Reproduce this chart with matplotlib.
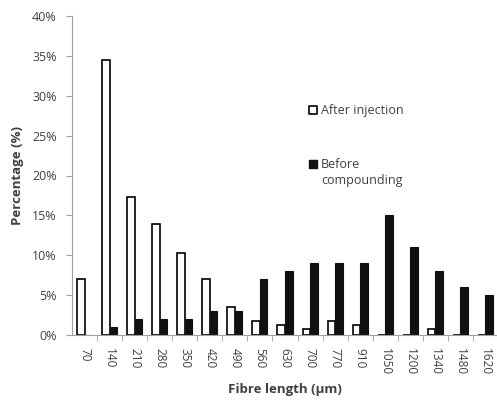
import matplotlib
matplotlib.use("Agg")
import matplotlib.pyplot as plt
import numpy as np
from matplotlib.ticker import PercentFormatter, FixedLocator

lengths = ["70", "140", "210", "280", "350", "420", "490", "560", "630",
           "700", "770", "910", "1050", "1200", "1340", "1480", "1620"]
after_injection = [7.0, 34.5, 17.3, 13.9, 10.3, 7.0, 3.5, 1.8, 1.2,
                   0.7, 1.8, 1.2, 0.0, 0.0, 0.8, 0.0, 0.0]
before_compounding = [0.0, 1.0, 2.0, 2.0, 2.0, 3.0, 3.0, 7.0, 8.0,
                      9.0, 9.0, 9.0, 15.0, 11.0, 8.0, 6.0, 5.0]

TEXT = "#404040"
AXIS = "#a0a0a0"

plt.rcParams["font.family"] = ["Open Sans", "DejaVu Sans"]

fig = plt.figure(figsize=(4.97, 4.01), dpi=100)
ax = fig.add_axes([72 / 497, 1 - 335 / 401, 426 / 497, 319 / 401])

x = np.arange(len(lengths))
w = 0.3
ax.bar(x - w / 2, after_injection, w, color="white", edgecolor="black", linewidth=1.2)
ax.bar(x + w / 2, before_compounding, w, color="#111111", edgecolor="#111111", linewidth=0.8)

ax.set_xlim(-0.5, len(lengths) - 0.5)
ax.set_ylim(0, 40)
ax.set_yticks(np.arange(0, 41, 5))
ax.yaxis.set_major_formatter(PercentFormatter(decimals=0))
ax.set_xticks(x)
ax.set_xticklabels(lengths, rotation=270)
ax.tick_params(axis="x", length=0, labelsize=8.5, colors=TEXT, pad=9)
ax.xaxis.set_minor_locator(FixedLocator(x[:-1] + 0.5))
ax.tick_params(axis="x", which="minor", length=4, color=AXIS)
ax.tick_params(axis="y", length=4, color=AXIS, labelsize=9, colors=TEXT, pad=7)

for s in ["top", "right"]:
    ax.spines[s].set_visible(False)
for s in ["left", "bottom"]:
    ax.spines[s].set_color(AXIS)

ax.set_ylabel("Percentage (%)", fontsize=9.5, fontweight="bold", color=TEXT, labelpad=6)
ax.set_xlabel("Fibre length (µm)", fontsize=9.5, fontweight="bold", color=TEXT, labelpad=6)

# legend drawn by hand so the square sits beside the first line of "Before compounding"
ax.scatter([0.566], [0.705], marker="s", s=36, facecolor="white", edgecolor="black",
           linewidth=1.2, transform=ax.transAxes, clip_on=False)
ax.text(0.585, 0.705, "After injection", transform=ax.transAxes, va="center",
        fontsize=9, color=TEXT)
ax.scatter([0.566], [0.536], marker="s", s=36, facecolor="#111111", edgecolor="#111111",
           transform=ax.transAxes, clip_on=False)
ax.text(0.585, 0.536, "Before", transform=ax.transAxes, va="center",
        fontsize=9, color=TEXT)
ax.text(0.585, 0.483, "compounding", transform=ax.transAxes, va="center",
        fontsize=9, color=TEXT)

fig.savefig("out.png", facecolor="white")
